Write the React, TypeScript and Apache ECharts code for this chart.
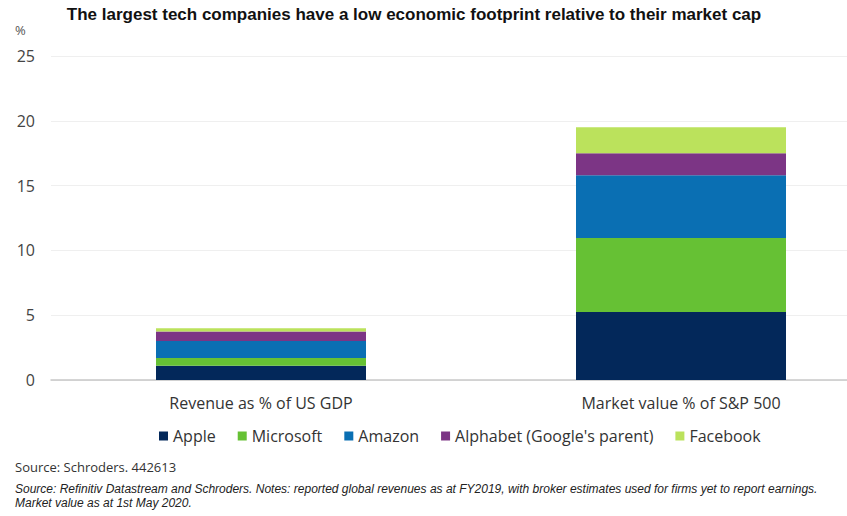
import React, { useEffect, useRef } from "react";
import * as echarts from "echarts";

const categories = ["Revenue as % of US GDP", "Market value % of S&P 500"];
const seriesNames = ["Apple", "Microsoft", "Amazon", "Alphabet (Google's parent)", "Facebook"];
const apple = [1.1, 5.25];
const microsoft = [0.6, 5.7];
const amazon = [1.3, 4.85];
const alphabet = [0.75, 1.7];
const facebook = [0.25, 2.0];
const colors = ["#03285a", "#66c134", "#0a6fb3", "#7c3585", "#bbe25c"];

const titleText = "The largest tech companies have a low economic footprint relative to their market cap";
const sourceText = "Source: Schroders. 442613";
const noteLine1 =
  "Source: Refinitiv Datastream and Schroders. Notes: reported global revenues as at FY2019, with broker estimates used for firms yet to report earnings.";
const noteLine2 = "Market value as at 1st May 2020.";

export default function App() {
  const ref = useRef<HTMLDivElement>(null);
  useEffect(() => {
    document.body.style.margin = "0";
    const chart = echarts.init(ref.current!, undefined, { renderer: "svg" });
    const data = [apple, microsoft, amazon, alphabet, facebook];
    chart.setOption({
      animation: false,
      backgroundColor: "#ffffff",
      grid: { left: 51, top: 56, width: 840, height: 324, containLabel: false },
      legend: {
        left: 154,
        top: 423,
        icon: "rect",
        itemWidth: 9,
        itemHeight: 9,
        itemGap: 22,
        textStyle: { fontFamily: "Open Sans", fontSize: 16, color: "#333" },
        data: seriesNames,
      },
      xAxis: {
        type: "category",
        data: categories,
        axisTick: { show: false },
        axisLine: { lineStyle: { color: "#c8c8c8", width: 1.5 } },
        axisLabel: { fontFamily: "Open Sans", fontSize: 16, color: "#333", margin: 15 },
      },
      yAxis: {
        type: "value",
        min: 0,
        max: 25,
        interval: 5,
        axisLine: { show: false },
        axisTick: { show: false },
        splitLine: { lineStyle: { color: "#efefef", width: 1 } },
        axisLabel: { fontFamily: "Open Sans", fontSize: 16, color: "#444", margin: 16 },
      },
      series: seriesNames.map((name, i) => ({
        name,
        type: "bar",
        stack: "total",
        barWidth: 210,
        data: data[i],
        itemStyle: { color: colors[i] },
      })),
      graphic: [
        {
          type: "text",
          x: 414,
          y: 14,
          style: {
            text: titleText,
            fontFamily: "Liberation Sans",
            fontWeight: "bold",
            fontSize: 17,
            fill: "#111",
            textAlign: "center",
            textVerticalAlign: "middle",
          },
        },
        {
          type: "text",
          x: 15,
          y: 30,
          style: {
            text: "%",
            fontFamily: "Open Sans",
            fontSize: 13,
            fill: "#555",
            textVerticalAlign: "middle",
          },
        },
        {
          type: "text",
          x: 15,
          y: 467,
          style: {
            text: sourceText,
            fontFamily: "Open Sans",
            fontSize: 13,
            fill: "#333",
            textVerticalAlign: "middle",
          },
        },
        {
          type: "text",
          x: 15,
          y: 489,
          style: {
            text: noteLine1,
            fontFamily: "Liberation Sans",
            fontStyle: "italic",
            fontSize: 12,
            fill: "#222",
            textVerticalAlign: "middle",
          },
        },
        {
          type: "text",
          x: 15,
          y: 503,
          style: {
            text: noteLine2,
            fontFamily: "Liberation Sans",
            fontStyle: "italic",
            fontSize: 12,
            fill: "#222",
            textVerticalAlign: "middle",
          },
        },
      ],
    });
    return () => chart.dispose();
  }, []);
  return (
    <div style={{ position: "absolute", left: 0, top: 0, width: 847, height: 516, overflow: "hidden", background: "#fff" }}>
      <div ref={ref} style={{ width: 895, height: 516 }} />
    </div>
  );
}
